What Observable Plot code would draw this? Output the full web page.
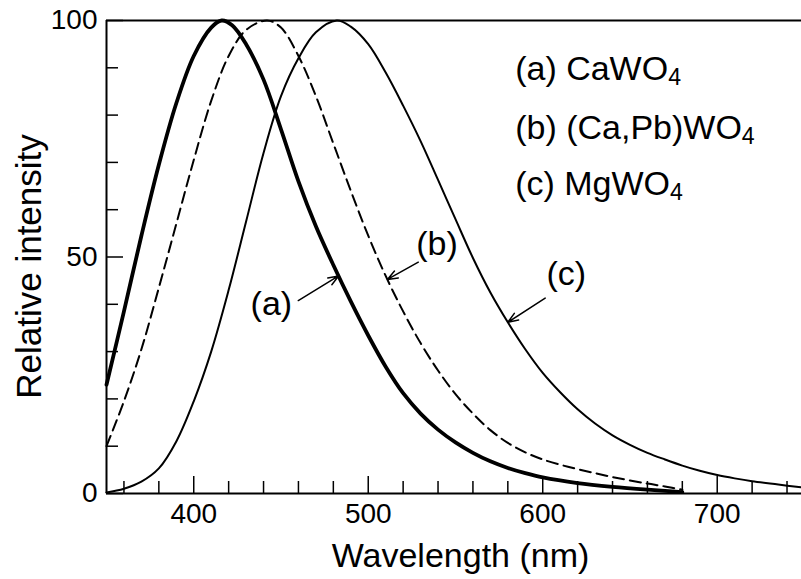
<!DOCTYPE html>
<html>
<head>
<meta charset="utf-8">
<script src="https://cdn.jsdelivr.net/npm/d3@7"></script>
<script src="https://cdn.jsdelivr.net/npm/@observablehq/plot@0.6"></script>
<style>
  body { margin: 0; background: #fff; }
  #chart svg { display: block; }
</style>
</head>
<body>
<div id="chart"></div>
<script>
// Emission spectra of three tungstate phosphors (relative intensity vs wavelength)
const curveLabels = ["(a)", "(b)", "(c)"];
const compoundNames = ["CaWO₄", "(Ca,Pb)WO₄", "MgWO₄"];

const wavelengthA = [350, 360, 370, 380, 390, 400, 410, 416, 422, 430, 440, 450, 460, 470, 480, 490, 500, 510, 520, 530, 540, 550, 560, 570, 580, 590, 600, 620, 640, 660, 680];
const intensityA  = [23, 38.5, 54.5, 69.5, 82.5, 92.5, 98.5, 100, 99, 95, 87.5, 77, 66, 56.5, 48.3, 40.6, 33.4, 26.8, 21.2, 16.9, 13.5, 10.8, 8.6, 6.8, 5.4, 4.3, 3.4, 2.2, 1.4, 0.8, 0.3];

const wavelengthB = [350, 360, 370, 380, 390, 400, 410, 420, 430, 442, 450, 460, 470, 480, 490, 500, 510, 520, 530, 540, 550, 560, 570, 580, 590, 600, 615, 630, 645, 660, 670, 680];
const intensityB  = [10, 19.5, 30.5, 43.5, 57, 70.5, 83, 92.5, 98, 100, 98.5, 92.5, 84, 74, 64, 54.5, 46, 38.5, 31.8, 26, 21, 16.9, 13.4, 10.7, 8.7, 7.2, 5.6, 4.3, 3.1, 2.1, 1.5, 0.8];

const wavelengthC = [350, 360, 370, 380, 390, 400, 410, 420, 430, 440, 450, 460, 470, 482, 490, 500, 510, 520, 530, 540, 550, 560, 570, 580, 590, 600, 610, 620, 630, 640, 650, 660, 670, 680, 690, 700, 710, 720, 735, 748];
const intensityC  = [0.2, 1.0, 2.5, 5.3, 11, 19.5, 30, 43, 57.5, 72, 84, 92, 97.5, 100, 98.7, 95, 89, 82, 74.5, 66.3, 58, 49.8, 42.5, 36.2, 30.5, 25.5, 21.4, 17.8, 14.8, 12.3, 10.3, 8.6, 7.2, 5.9, 4.8, 3.9, 3.2, 2.6, 1.9, 1.3];

const xMajorTicks = [400, 500, 600, 700];
const xMinorTicks = d3.range(360, 750, 20).filter(d => d % 100 !== 0);
const yMajorTicks = [0, 50, 100];
const yMinorTicks = [10, 20, 30, 40, 60, 70, 80, 90];

const series = [
  {w: wavelengthA, v: intensityA},
  {w: wavelengthB, v: intensityB},
  {w: wavelengthC, v: intensityC}
];
const rows = s => s.w.map((w, i) => ({wavelength: w, intensity: s.v[i]}));
const dataA = rows(series[0]);
const dataB = rows(series[1]);
const dataC = rows(series[2]);

// linear lookup of a spectrum so the pointer arrows end on their curves
function valueAt(s, w) {
  const i = d3.bisectRight(s.w, w);
  if (i <= 0) return s.v[0];
  if (i >= s.w.length) return s.v[s.w.length - 1];
  const t = (w - s.w[i - 1]) / (s.w[i] - s.w[i - 1]);
  return s.v[i - 1] + t * (s.v[i] - s.v[i - 1]);
}

// curve call-outs: label position, arrow tail, arrow tip wavelength
const callouts = [
  {label: curveLabels[0], lx: 444.5, ly: 40.1, x1: 459.9, y1: 40.8, x2: 483, s: series[0]},
  {label: curveLabels[1], lx: 539.4, ly: 52.8, x1: 528.7, y1: 48.9, x2: 511, s: series[1]},
  {label: curveLabels[2], lx: 613.5, ly: 46.4, x1: 601.4, y1: 41.3, x2: 580, s: series[2]}
].map(d => ({...d, y2: valueAt(d.s, d.x2)}));

const legend = curveLabels.map((l, i) => ({text: `${l} ${compoundNames[i]}`, y: [89.7, 77.3, 65.4][i]}));

const font = "'Liberation Sans', Arial, Helvetica, sans-serif";

const chart = Plot.plot({
  width: 801,
  height: 579,
  marginLeft: 106,
  marginRight: 0,
  marginTop: 20,
  marginBottom: 86,
  style: {fontFamily: font, background: "#fff", color: "#000"},
  x: {domain: [350, 748.3]},
  y: {domain: [0, 100]},
  marks: [
    // inward ticks
    Plot.axisX(xMinorTicks, {tickSize: -12, strokeWidth: 1.5, fill: "none"}),
    Plot.axisX(xMajorTicks, {tickSize: -17, strokeWidth: 1.5, fill: "none"}),
    Plot.axisY(yMinorTicks, {tickSize: -12, strokeWidth: 1.5, fill: "none"}),
    Plot.axisY(yMajorTicks, {tickSize: -17, strokeWidth: 1.5, fill: "none"}),
    // tick labels
    Plot.axisX(xMajorTicks, {tickSize: 0, tickPadding: 10, fontSize: 28, label: null}),
    Plot.axisY(yMajorTicks, {tickSize: 0, tickPadding: 9, fontSize: 28, label: null}),
    // frame: left, bottom and top edges
    Plot.ruleX([350], {strokeWidth: 2}),
    Plot.ruleY([0, 100], {strokeWidth: 2}),
    // spectra
    Plot.line(dataC, {x: "wavelength", y: "intensity", curve: "catmull-rom", strokeWidth: 2}),
    Plot.line(dataB, {x: "wavelength", y: "intensity", curve: "catmull-rom", strokeWidth: 2, strokeDasharray: "11,6"}),
    Plot.line(dataA, {x: "wavelength", y: "intensity", curve: "catmull-rom", strokeWidth: 3.8}),
    // call-outs
    Plot.arrow(callouts, {x1: "x1", y1: "y1", x2: "x2", y2: "y2", headLength: 11, headAngle: 42, strokeWidth: 1.5}),
    Plot.text(callouts, {x: "lx", y: "ly", text: "label", fontSize: 34, textAnchor: "middle", lineAnchor: "middle"}),
    // legend
    Plot.text(legend, {x: 584.2, y: "y", text: "text", fontSize: 34, textAnchor: "start", lineAnchor: "middle"}),
    // axis titles
    Plot.text(["Wavelength (nm)"], {text: d => d, frameAnchor: "bottom", dx: 6.5, dy: 63, fontSize: 34, textAnchor: "middle", lineAnchor: "middle"}),
    Plot.text(["Relative intensity"], {text: d => d, frameAnchor: "left", rotate: -90, dx: -77, dy: 9.5, fontSize: 35, textAnchor: "middle", lineAnchor: "middle"})
  ]
});

// render the "4" in the formulas as a subscript
d3.select(chart).selectAll("text").each(function () {
  const t = this.textContent;
  if (!t.includes("₄")) return;
  const [before] = t.split("₄");
  const sel = d3.select(this);
  sel.text(before);
  sel.append("tspan").attr("font-size", "0.68em").attr("dy", "0.22em").text("4");
});

document.getElementById("chart").append(chart);
</script>
</body>
</html>
